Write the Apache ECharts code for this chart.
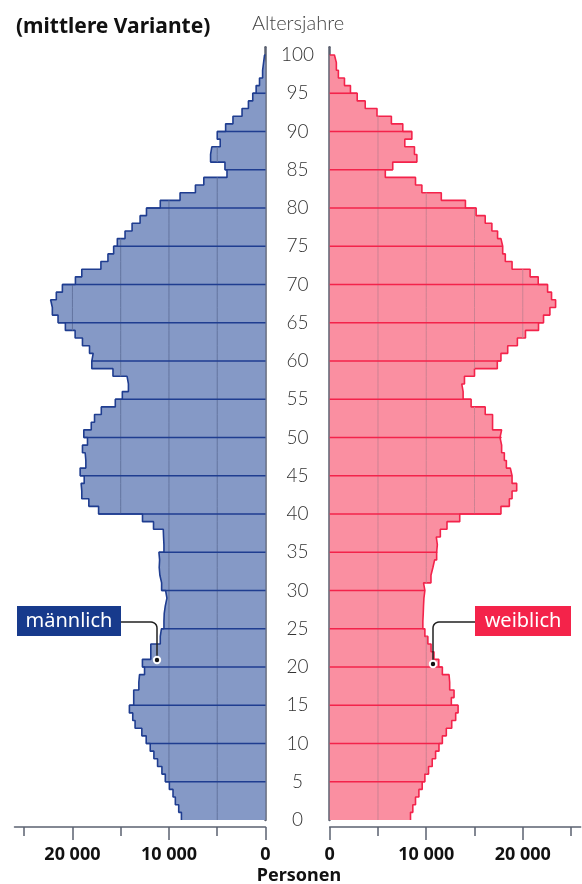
<!DOCTYPE html>
<html lang="de">
<head>
    <meta charset="UTF-8">
    <title>Bevölkerungspyramide</title>
    <style>
        html, body { margin: 0; padding: 0; background: #fff; }
        #chart { width: 582px; height: 884px; }
    </style>
    <script src="https://cdn.jsdelivr.net/npm/echarts@6.0.0/dist/echarts.min.js"></script>
</head>
<body>
    <div id="chart"></div>
    <script>
        // Altersjahre 0..101 (101 nur als Platz oberhalb von 100)
        var alter = []
        for (var i = 0; i <= 101; i++) alter.push(String(i))

        // Personen je Altersjahr, Index = Alter 0..99
        var maenner = [
            8710, 8990, 9340, 9580, 9960, 10380, 10730, 11180, 11560, 11940,
            12360, 12810, 13510, 13750, 14100, 13650, 13650, 13120, 13050, 12530,
            12750, 11880, 11880, 10900, 10780, 10520, 10490, 10380, 10210, 10350,
            10760, 10940, 11010, 10970, 11040, 10520, 10560, 10590, 11600, 12740,
            17290, 18300, 19030, 19100, 18780, 19200, 18610, 18680, 18960, 18440,
            18820, 18050, 17710, 17010, 15560, 14830, 14200, 14340, 15800, 17990,
            17850, 18230, 18960, 19720, 20730, 21490, 22080, 22260, 21670, 21040,
            19690, 19030, 17050, 16320, 15730, 15350, 14550, 13820, 12990, 12330,
            10900, 8850, 7260, 6390, 3990, 4200, 5690, 5560, 4690, 5000,
            4130, 3370, 2430, 1770, 1320, 970, 620, 300, 200, 100
        ]
        var frauen = [
            8370, 8610, 8890, 9240, 9580, 9860, 10240, 10620, 10970, 11320,
            11670, 12080, 12640, 13050, 13300, 12600, 12880, 12430, 12360, 11670,
            11300, 10800, 10500, 10170, 9860, 9650, 9690, 9720, 9760, 9860,
            9720, 10490, 10690, 10870, 11080, 11150, 11040, 11460, 12150, 13470,
            17740, 18610, 18890, 19370, 18890, 18710, 18300, 18090, 17810, 17640,
            17810, 16870, 16870, 16110, 14650, 13820, 13680, 13960, 15000, 17360,
            17740, 18440, 19440, 20280, 21630, 22150, 22810, 23400, 22980, 22570,
            21600, 20760, 18890, 18190, 17920, 17740, 17390, 16800, 16110, 15170,
            14060, 11560, 9550, 8890, 5760, 6530, 9030, 8780, 7780, 8510,
            7570, 6390, 4900, 3680, 2850, 2150, 1530, 900, 690, 490
        ]

        var gitterWerte = [5000, 10000, 15000, 20000, 25000]
        var beschriftWerte = [0, 10000, 20000]
        var nebenTicks = [5000, 15000, 25000]

        var GRAU = '#5b6170'

        // Treppenlinie: Wert gilt von Alter a bis a+1
        function stufen(werte) {
            var pts = werte.map(function (v, a) { return [v, a] })
            pts.push([werte[werte.length - 1], werte.length])
            pts.push([0, werte.length])
            return pts
        }

        // Gitterlinien nur innerhalb der Fläche + 5-Jahres-Linien
        function innenLinien(werte, gitterFarbe, linienFarbe) {
            return function (params, api) {
                var v = api.value(0)
                var a = api.value(1)
                var kinder = []
                gitterWerte.forEach(function (g) {
                    if (g < v) {
                        var p0 = api.coord([g, a])
                        var p1 = api.coord([g, a + 1])
                        kinder.push({
                            type: 'line',
                            shape: { x1: p0[0], y1: p0[1], x2: p1[0], y2: p1[1] },
                            style: { stroke: gitterFarbe, lineWidth: 1 }
                        })
                    }
                })
                if (a > 0 && a % 5 === 0) {
                    var w = Math.max(v, werte[a - 1])
                    var q0 = api.coord([0, a])
                    var q1 = api.coord([w, a])
                    kinder.push({
                        type: 'line',
                        shape: { x1: q0[0], y1: q0[1], x2: q1[0], y2: q1[1] },
                        style: { stroke: linienFarbe, lineWidth: 1.6 }
                    })
                }
                return { type: 'group', children: kinder }
            }
        }

        function zahl(v) {
            return v === 0 ? '0' : (v / 1000) + ' 000'
        }

        function xAchse(grid, inverse) {
            return {
                gridIndex: grid, type: 'value', inverse: inverse, min: 0, max: 26000,
                position: 'bottom', offset: 7,
                axisLine: { show: true, onZero: false, lineStyle: { color: GRAU, width: 1.5 } },
                axisTick: { show: true, customValues: beschriftWerte, length: 13, lineStyle: { color: GRAU, width: 1.5 } },
                axisLabel: {
                    customValues: beschriftWerte, formatter: zahl, margin: 19,
                    color: '#111', fontSize: 18, fontWeight: 'bold', fontFamily: 'Noto Sans'
                },
                splitLine: { show: false }
            }
        }
        function xNeben(grid, inverse) {
            return {
                gridIndex: grid, type: 'value', inverse: inverse, min: 0, max: 26000,
                position: 'bottom', offset: 7,
                axisLine: { show: false },
                axisTick: { show: true, customValues: nebenTicks, length: 9, lineStyle: { color: GRAU, width: 1.5 } },
                axisLabel: { show: false },
                splitLine: { show: false }
            }
        }

        // Leitlinie mit abgerundeter Ecke
        function leitlinie(x0, y0, xk, y1) {
            var r = 6, s = xk < x0 ? 1 : -1
            var pts = [[x0, y0]]
            for (var k = 0; k <= 6; k++) {
                var t = k / 6 * Math.PI / 2
                pts.push([xk + s * r * (1 - Math.sin(t)), y0 + r * (1 - Math.cos(t))])
            }
            pts.push([xk, y1])
            return pts
        }

        var chart = echarts.init(document.getElementById('chart'))

        var option = {
            animation: false,
            grid: [
                { left: 14.5, width: 251, top: 47.35, bottom: 64, containLabel: false },
                { left: 329.7, width: 251, top: 47.35, bottom: 64, containLabel: false }
            ],
            xAxis: [xAchse(0, true), xNeben(0, true), xAchse(1, false), xNeben(1, false)],
            yAxis: [
                {
                    gridIndex: 0, type: 'category', data: alter, boundaryGap: false, position: 'right',
                    axisLine: { show: true, onZero: false, lineStyle: { color: GRAU, width: 2.5 } },
                    axisTick: { show: false },
                    axisLabel: {
                        interval: function (i) { return i % 5 === 0 && i <= 100 },
                        margin: 32, align: 'center', color: '#333',
                        fontSize: 19, fontFamily: 'Lato', fontWeight: 300
                    },
                    splitLine: { show: false }
                },
                {
                    gridIndex: 1, type: 'category', data: alter, boundaryGap: false, position: 'left',
                    axisLine: { show: true, onZero: false, lineStyle: { color: GRAU, width: 2.5 } },
                    axisTick: { show: false },
                    axisLabel: { show: false },
                    splitLine: { show: false }
                }
            ],
            series: [
                {
                    name: 'männlich', type: 'line', xAxisIndex: 0, yAxisIndex: 0,
                    data: stufen(maenner), step: 'end', symbol: 'none', z: 2,
                    lineStyle: { color: '#1f3d90', width: 1.6 },
                    areaStyle: { color: '#8599c6', opacity: 1 }
                },
                {
                    type: 'custom', xAxisIndex: 0, yAxisIndex: 0, z: 3, silent: true,
                    encode: { x: 0, y: 1 },
                    data: maenner.map(function (v, a) { return [v, a] }),
                    renderItem: innenLinien(maenner, '#63749f', '#1f3d90')
                },
                {
                    name: 'weiblich', type: 'line', xAxisIndex: 2, yAxisIndex: 1,
                    data: stufen(frauen), step: 'end', symbol: 'none', z: 2,
                    lineStyle: { color: '#f3234b', width: 1.6 },
                    areaStyle: { color: '#fa8fa1', opacity: 1 }
                },
                {
                    type: 'custom', xAxisIndex: 2, yAxisIndex: 1, z: 3, silent: true,
                    encode: { x: 0, y: 1 },
                    data: frauen.map(function (v, a) { return [v, a] }),
                    renderItem: innenLinien(frauen, '#cc8292', '#f3234b')
                }
            ],
            graphic: [
                {
                    type: 'text', z: 10,
                    style: { text: '(mittlere Variante)', x: 16, y: 27, font: 'bold 21px "Noto Sans"', fill: '#111', verticalAlign: 'middle' }
                },
                {
                    type: 'text', z: 10,
                    style: { text: 'Altersjahre', x: 298, y: 24, font: '300 20px Lato', fill: '#444', align: 'center', verticalAlign: 'middle' }
                },
                {
                    type: 'text', z: 10,
                    style: { text: 'Personen', x: 299, y: 876, font: 'bold 18px "Noto Sans"', fill: '#111', align: 'center', verticalAlign: 'middle' }
                },
                // Beschriftung männlich
                {
                    type: 'polyline', z: 10,
                    shape: { points: leitlinie(121, 622, 157, 660) },
                    style: { stroke: '#222', lineWidth: 1.5, fill: null }
                },
                { type: 'circle', z: 11, shape: { cx: 157, cy: 660, r: 3.2 }, style: { fill: '#111', stroke: '#fff', lineWidth: 2 } },
                { type: 'rect', z: 10, shape: { x: 17, y: 606, width: 104, height: 30 }, style: { fill: '#173a8c' } },
                {
                    type: 'text', z: 11,
                    style: { text: 'männlich', x: 69, y: 621, font: '20px "Noto Sans"', fill: '#fff', align: 'center', verticalAlign: 'middle' }
                },
                // Beschriftung weiblich
                {
                    type: 'polyline', z: 10,
                    shape: { points: leitlinie(475, 622, 433, 664) },
                    style: { stroke: '#222', lineWidth: 1.5, fill: null }
                },
                { type: 'circle', z: 11, shape: { cx: 433, cy: 664, r: 3.2 }, style: { fill: '#111', stroke: '#fff', lineWidth: 2 } },
                { type: 'rect', z: 10, shape: { x: 475, y: 606, width: 96, height: 30 }, style: { fill: '#f4234a' } },
                {
                    type: 'text', z: 11,
                    style: { text: 'weiblich', x: 523, y: 621, font: '20px "Noto Sans"', fill: '#fff', align: 'center', verticalAlign: 'middle' }
                }
            ]
        }
        chart.setOption(option)
    </script>
</body>
</html>
